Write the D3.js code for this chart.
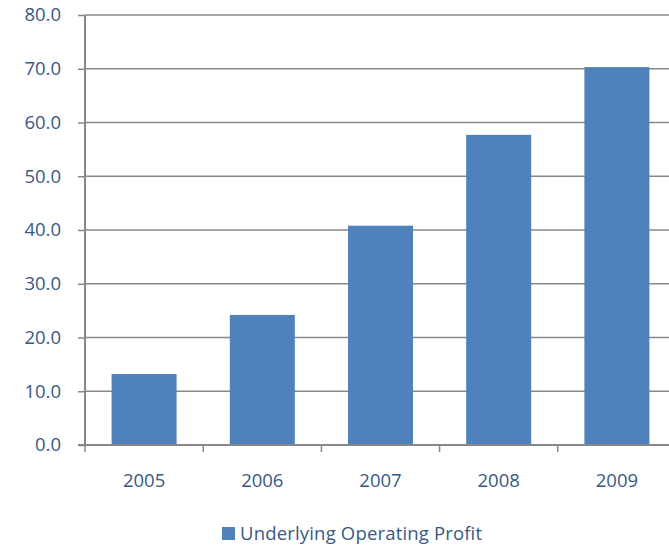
<!DOCTYPE html>
<html>
<head>
<meta charset="utf-8">
<script src="https://cdn.jsdelivr.net/npm/d3@7"></script>
<style>
  body { margin: 0; background: #fff; }
  svg { display: block; font-family: "Open Sans", sans-serif; }
</style>
</head>
<body>
<div id="chart"></div>
<script>
const years = ["2005", "2006", "2007", "2008", "2009"];
const profit = [13.2, 24.2, 40.8, 57.7, 70.3];
const yTicks = [0, 10, 20, 30, 40, 50, 60, 70, 80];
const seriesName = "Underlying Operating Profit";

const w = 669, h = 546;
const padding = { top: 15, bottom: 101, left: 85, right: -7 };
const axisColor = "#878787";
const textColor = "#36598a";
const barColor = "#4f81bd";
const fontSize = "18.5px";

const svg = d3.select("#chart").append("svg").attr("width", w).attr("height", h);

const x = d3.scaleBand()
  .domain(years)
  .range([padding.left, w - padding.right])
  .paddingInner(0.45)
  .paddingOuter(0.225);
const y = d3.scaleLinear().domain([0, 80]).range([h - padding.bottom, padding.top]);

// gridlines
svg.append("g")
  .selectAll("line")
  .data(yTicks.filter((d) => d > 0))
  .enter()
  .append("line")
  .attr("x1", padding.left)
  .attr("x2", w)
  .attr("y1", (d) => y(d))
  .attr("y2", (d) => y(d))
  .attr("stroke", axisColor)
  .attr("stroke-width", 1.5);

// bars
svg.append("g")
  .selectAll("rect")
  .data(years.map((d, i) => ({ year: d, value: profit[i] })))
  .enter()
  .append("rect")
  .attr("x", (d) => x(d.year))
  .attr("width", x.bandwidth())
  .attr("y", (d) => y(d.value))
  .attr("height", (d) => y(0) - y(d.value))
  .attr("fill", barColor);

// y axis
const yAxis = svg.append("g")
  .attr("transform", `translate(${padding.left}, 0)`)
  .call(d3.axisLeft(y).tickValues(yTicks).tickFormat(d3.format(".1f")).tickSize(7).tickPadding(17));
yAxis.selectAll("line").attr("stroke", axisColor).attr("stroke-width", 1.5);
yAxis.select(".domain").attr("stroke", axisColor).attr("stroke-width", 2).attr("d", `M0,${y(80)}V${y(0)}`);
yAxis.selectAll("text").attr("fill", textColor).style("font-size", fontSize).style("font-family", "Open Sans");

// x axis
const gap = (x.step() - x.bandwidth()) / 2;
const xAxis = svg.append("g").attr("transform", `translate(0, ${y(0)})`);
xAxis.append("line")
  .attr("x1", padding.left - 7)
  .attr("x2", w)
  .attr("stroke", axisColor)
  .attr("stroke-width", 2);
xAxis.selectAll(".tk")
  .data(years)
  .enter()
  .append("line")
  .attr("class", "tk")
  .attr("x1", (d) => x(d) - gap)
  .attr("x2", (d) => x(d) - gap)
  .attr("y1", 0)
  .attr("y2", 7)
  .attr("stroke", axisColor)
  .attr("stroke-width", 1.5);
xAxis.selectAll("text")
  .data(years)
  .enter()
  .append("text")
  .attr("x", (d) => x(d) + x.bandwidth() / 2)
  .attr("y", 42)
  .attr("text-anchor", "middle")
  .attr("fill", textColor)
  .style("font-size", fontSize)
  .text((d) => d);

// legend
const legend = svg.append("g").attr("transform", "translate(222, 527)");
legend.append("rect").attr("width", 13).attr("height", 13).attr("fill", barColor);
legend.append("text")
  .attr("x", 18)
  .attr("y", 13)
  .attr("fill", textColor)
  .style("font-size", fontSize)
  .attr("textLength", 242)
  .text(seriesName);
</script>
</body>
</html>
